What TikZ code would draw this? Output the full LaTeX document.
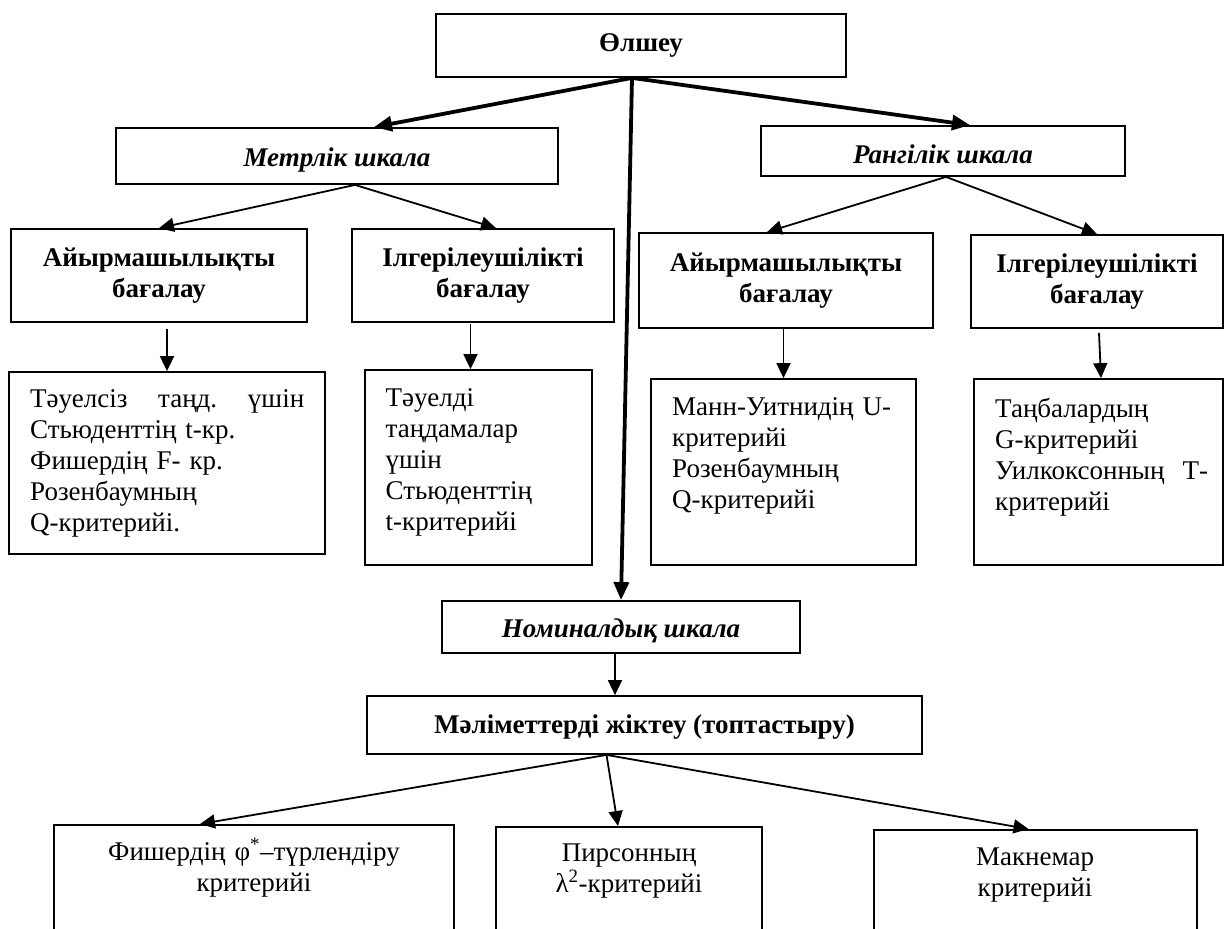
\documentclass[tikz,border=0pt]{standalone}
\usepackage{fontspec}
\setmainfont{Liberation Serif}
\usetikzlibrary{arrows.meta,calc}
\newcommand\bigtxt{\fontsize{27}{31}\selectfont}
\begin{document}
\begin{tikzpicture}[x=1pt,y=-1pt,
  box/.style={draw, line width=1.8pt, inner sep=0pt, align=center, font=\bigtxt},
  hb/.style={box, font=\bigtxt\bfseries},
  hi/.style={box, font=\bigtxt\bfseries\itshape},
  txt/.style={inner sep=0pt, align=left, font=\bigtxt},
  ctxt/.style={inner sep=0pt, align=center, font=\bigtxt},
  thin/.style={line width=1.8pt, -{Triangle[length=15pt,width=14pt]}},
  thick/.style={line width=3.8pt, -{Triangle[length=18pt,width=15pt]}}]
\useasboundingbox (0,0) rectangle (1224,929);
\clip (0,0) rectangle (1224,929);
% top level
\node[hb, minimum width=410pt, minimum height=63pt] (ol) at (641,45.5) {Өлшеу};
\node[hi, minimum width=442pt, minimum height=56pt, text height=24pt, text depth=4pt] (metr) at (337,156) {Метрлік шкала};
\node[hi, minimum width=364pt, minimum height=50pt, text height=26pt, text depth=2pt] (rang) at (943,151) {Рангілік шкала};
% second level
\node[hb, minimum width=296pt, minimum height=93pt] (a1) at (159,275.5) {Айырмашылықты\\бағалау};
\node[hb, minimum width=262pt, minimum height=93pt] (i1) at (483,275.5) {Ілгерілеушілікті\\бағалау};
\node[hb, minimum width=294pt, minimum height=95pt] (a2) at (786,280.5) {Айырмашылықты\\бағалау};
\node[hb, minimum width=252pt, minimum height=93pt] (i2) at (1097,281.5) {Ілгерілеушілікті\\бағалау};
% third level boxes
\node[box, minimum width=316pt, minimum height=182pt] (t1) at (167,463) {};
\node[box, minimum width=227pt, minimum height=195pt] (t2) at (478.5,467.5) {};
\node[box, minimum width=265pt, minimum height=186pt] (m2) at (783.5,472) {};
\node[box, minimum width=249pt, minimum height=186pt] (tb) at (1098.5,472) {};
\node[txt, text width=274pt, anchor=base west] (t1t) at (30,407) {Тәуелсіз\hfill таңд.\hfill үшін\\Стьюденттің t-кр.\\Фишердің F- кр.\\Розенбаумның\\Q-критерийі.};
\node[txt, text width=200pt, anchor=base west] (t2t) at (385.5,406) {Тәуелді\\таңдамалар\\үшін\\Стьюденттің\\t-критерийі};
\node[txt, text width=240pt, anchor=base west] (m2t) at (672,415) {Манн-Уитнидің U-\\критерийі\\Розенбаумның\\Q-критерийі};
\node[txt, text width=213pt, anchor=base west] (tbt) at (995,417) {Таңбалардың\\G-критерийі\\Уилкоксонның\hfill Т-\\критерийі};
% nominal
\node[hi, minimum width=358pt, minimum height=52pt, text height=24pt, text depth=4pt] (nom) at (621,627) {Номиналдық шкала};
\node[hb, minimum width=555pt, minimum height=58pt, text height=22pt, text depth=6pt] (mal) at (644.5,725) {Мәліметтерді жіктеу (топтастыру)};
% bottom boxes
\node[box, minimum width=400pt, minimum height=130pt, anchor=north] (fi) at (254,824) {};
\node[box, minimum width=266pt, minimum height=130pt, anchor=north] (pi) at (629,826) {};
\node[box, minimum width=323pt, minimum height=130pt, anchor=north] (mk) at (1035.5,829) {};
\node[ctxt, text width=390pt, anchor=base] (fit) at (254,860) {Фишердің φ\textsuperscript{*}–түрлендіру\\критерийі};
\node[ctxt, text width=250pt, anchor=base] (pit) at (629,861) {Пирсонның\\λ\textsuperscript{2}-критерийі};
\node[ctxt, text width=300pt, anchor=base] (mkt) at (1035,865) {Макнемар\\критерийі};
% arrows
\draw[thick] ($(ol.south)+(-9,0)$) -- ($(metr.north)+(37,0)$);
\draw[thick] ($(ol.south)+(-9,0)$) -- ($(rang.north)+(27,0)$);
\draw[thick] ($(ol.south)+(-9,0)$) -- (nom.north);
\draw[thin] ($(metr.south)+(18,0)$) -- (a1.north);
\draw[thin] ($(metr.south)+(18,0)$) -- ($(i1.north)+(13,0)$);
\draw[thin] ($(rang.south)+(3,0)$) -- ($(a2.north)+(-19,0)$);
\draw[thin] ($(rang.south)+(3,0)$) -- (i2.north);
\draw[thin] ($(t1.north |- a1.south)+(0,6)$) -- (t1.north);
\draw[thin] ($(t2.north |- i1.south)+(-8,1)$) -- ($(t2.north)+(-8,0)$);
\draw[thin] (m2.north |- a2.south) -- (m2.north);
\draw[thin] ($(i2.south)+(2,4)$) -- ($(tb.north)+(2.5,0)$);
\draw[thin] ($(nom.south)+(-6,0)$) -- ($(nom.south |- mal.north)+(-6,0)$);
\draw[thin] ($(mal.south)+(-38,0)$) -- ($(fi.north)+(-54,0)$);
\draw[thin] ($(mal.south)+(-38,0)$) -- ($(pi.north)+(-11,0)$);
\draw[thin] ($(mal.south)+(-38,0)$) -- ($(mk.north)+(-7,0)$);
\end{tikzpicture}
\end{document}
